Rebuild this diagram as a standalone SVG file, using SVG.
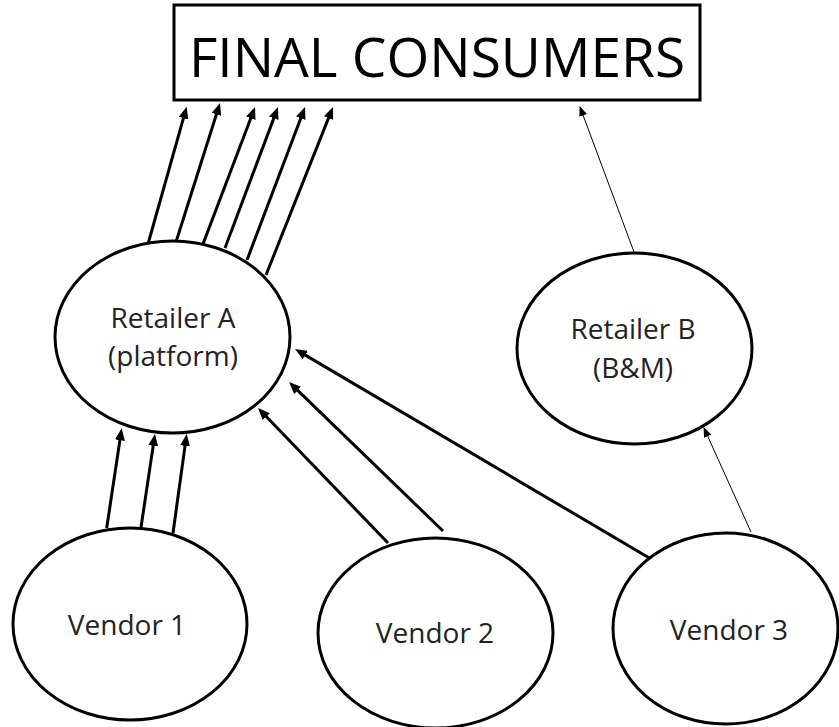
<svg xmlns="http://www.w3.org/2000/svg" width="839" height="727" viewBox="0 0 839 727">
<style>
.node{fill:#fff;stroke:#000;stroke-width:3}
.lbl{font-family:"Open Sans","Liberation Sans",sans-serif;font-size:28px;fill:#222;text-anchor:middle}
.title{font-family:"Open Sans","Liberation Sans",sans-serif;font-size:55px;fill:#000;text-anchor:middle}
.thick{stroke:#000;stroke-width:3;fill:none;marker-end:url(#ah)}
.thin{stroke:#000;stroke-width:1;fill:none;marker-end:url(#ahs)}
</style>
<defs>
<marker id="ah" markerUnits="userSpaceOnUse" markerWidth="12" markerHeight="10" refX="4" refY="5" orient="auto">
<path d="M0,0 L12,5 L0,10 z" fill="#000"/>
</marker>
<marker id="ahs" markerUnits="userSpaceOnUse" markerWidth="10" markerHeight="8" refX="9" refY="4" orient="auto">
<path d="M0,0 L10,4 L0,8 z" fill="#000"/>
</marker>
</defs>
<rect width="839" height="727" fill="#fff"/>
<g id="connectors">
<path class="thick" d="M148,244 L184.5,114.4"/>
<path class="thick" d="M176,242 L217.6,110.6"/>
<path class="thick" d="M203,244 L252.2,114.5"/>
<path class="thick" d="M225,248 L275.2,114.5"/>
<path class="thick" d="M247,260 L302.2,114.5"/>
<path class="thick" d="M266,275 L330,114.4"/>
<path class="thick" d="M106.7,528 L120.5,436.2"/>
<path class="thick" d="M140,534 L153.8,441.9"/>
<path class="thick" d="M173,533 L185.6,441.9"/>
<path class="thick" d="M388,543 L263.6,413.8"/>
<path class="thick" d="M443,531 L294.8,387.6"/>
<path class="thick" d="M651,559 L301.9,353.1"/>
<path class="thin" d="M634,252 L580,107"/>
<path class="thin" d="M751,532 L704,428"/>
</g>
<g id="final-consumers">
<rect class="node" x="174" y="5" width="526" height="95"/>
<text class="title" x="437" y="77">FINAL CONSUMERS</text>
</g>
<g id="retailer-a">
<ellipse class="node" cx="172.5" cy="337" rx="117.5" ry="96" fill="none"/>
<text class="lbl" x="173" y="328">Retailer A</text>
<text class="lbl" x="173" y="366">(platform)</text>
</g>
<g id="retailer-b">
<ellipse class="node" cx="634.5" cy="348.5" rx="117.5" ry="95.5"/>
<text class="lbl" x="633" y="339">Retailer B</text>
<text class="lbl" x="633" y="378">(B&amp;M)</text>
</g>
<g id="vendor-1">
<ellipse class="node" cx="130" cy="624" rx="117" ry="96"/>
<text class="lbl" x="127" y="635">Vendor 1</text>
</g>
<g id="vendor-2">
<ellipse class="node" cx="435.5" cy="633" rx="117.5" ry="95"/>
<text class="lbl" x="435" y="643">Vendor 2</text>
</g>
<g id="vendor-3">
<ellipse class="node" cx="725.5" cy="628.5" rx="112.5" ry="95.5"/>
<text class="lbl" x="729" y="640">Vendor 3</text>
</g>
</svg>
